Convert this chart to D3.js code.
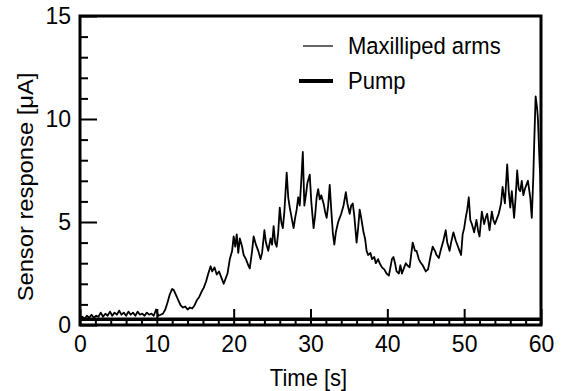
<!DOCTYPE html>
<html>
<head>
<meta charset="utf-8">
<script src="https://cdn.jsdelivr.net/npm/d3@7"></script>
<style>
  html, body { margin: 0; padding: 0; background: #fff; }
  svg text { font-family: "Liberation Sans", Arial, sans-serif; fill: #000; }
</style>
</head>
<body>
<div id="chart"></div>
<script>
// time [s] and response [uA]
const armTime = [
  0.0, 0.3, 0.6, 0.9, 1.2, 1.5, 1.8, 2.1, 2.4, 2.7, 3.0, 3.3, 3.6, 3.9, 4.2, 4.5, 4.8, 5.1, 5.4, 5.7,
  6.0, 6.3, 6.6, 6.9, 7.2, 7.5, 7.8, 8.1, 8.4, 8.7, 9.0, 9.3, 9.6, 9.9, 10.2, 10.5, 10.8, 11.1, 11.4, 11.7,
  12.0, 12.2, 12.5, 12.8, 13.1, 13.4, 13.7, 14.0, 14.3, 14.6, 14.9, 15.2, 15.5, 15.8, 16.1, 16.4, 16.7, 17.0, 17.2, 17.5,
  17.8, 18.1, 18.4, 18.7, 18.9, 19.2, 19.5, 19.8, 20.0, 20.2, 20.4, 20.6, 20.8, 21.1, 21.3, 21.6, 21.9, 22.1, 22.4, 22.6,
  22.9, 23.2, 23.5, 23.7, 24.0, 24.2, 24.5, 24.8, 25.0, 25.2, 25.4, 25.6, 25.8, 26.0, 26.2, 26.4, 26.6, 26.9, 27.1, 27.3,
  27.5, 27.8, 28.0, 28.2, 28.4, 28.6, 28.8, 29.0, 29.2, 29.4, 29.6, 29.9, 30.1, 30.4, 30.6, 30.8, 31.0, 31.2, 31.4, 31.7,
  31.9, 32.1, 32.3, 32.5, 32.7, 32.9, 33.1, 33.3, 33.6, 33.8, 34.0, 34.3, 34.6, 34.8, 35.1, 35.3, 35.5, 35.7, 36.0, 36.2,
  36.4, 36.6, 36.9, 37.1, 37.3, 37.5, 37.8, 38.0, 38.3, 38.5, 38.8, 39.0, 39.3, 39.6, 39.9, 40.2, 40.4, 40.6, 40.8, 41.0,
  41.2, 41.5, 41.7, 41.9, 42.1, 42.4, 42.6, 42.9, 43.1, 43.3, 43.6, 43.8, 44.1, 44.3, 44.6, 45.0, 45.3, 45.6, 45.9, 46.2,
  46.4, 46.7, 47.0, 47.3, 47.6, 47.8, 48.1, 48.3, 48.6, 48.9, 49.2, 49.4, 49.6, 49.8, 50.0, 50.2, 50.4, 50.6, 50.8, 51.0,
  51.3, 51.6, 51.8, 52.0, 52.3, 52.6, 52.8, 53.0, 53.3, 53.6, 53.8, 54.0, 54.3, 54.5, 54.8, 55.0, 55.3, 55.6, 55.8, 56.0,
  56.2, 56.5, 56.7, 56.9, 57.1, 57.3, 57.5, 57.7, 57.9, 58.1, 58.3, 58.6, 58.8, 59.0, 59.1, 59.3, 59.5, 59.6, 59.8, 59.9,
  60.0
]
const armResponse = [
  0.35, 0.4, 0.3, 0.45, 0.35, 0.5, 0.35, 0.45, 0.4, 0.6, 0.4, 0.55, 0.45, 0.65, 0.45, 0.6, 0.5, 0.7, 0.5, 0.6,
  0.45, 0.65, 0.5, 0.6, 0.45, 0.65, 0.5, 0.55, 0.45, 0.6, 0.5, 0.55, 0.45, 0.75, 0.45, 0.5, 0.55, 0.75, 1.1, 1.5,
  1.75, 1.7, 1.45, 1.2, 0.95, 0.85, 0.9, 0.75, 0.85, 0.8, 0.95, 1.2, 1.35, 1.6, 1.8, 2.1, 2.5, 2.85, 2.6, 2.8,
  2.45, 2.6, 2.3, 2.0, 2.2, 2.5, 3.2, 3.6, 4.3, 3.8, 4.4, 3.5, 4.2, 3.8, 3.4, 3.2, 2.9, 2.75, 3.6, 4.3,
  3.9, 3.6, 3.2, 3.5, 4.6, 4.0, 3.6, 4.2, 3.9, 4.8, 4.0, 3.8, 4.5, 5.7, 5.0, 4.7, 5.5, 7.4, 6.2, 5.7,
  5.3, 4.7, 5.2, 5.6, 6.2, 5.8, 7.0, 8.4, 5.8, 6.3, 6.9, 7.3, 6.0, 4.7, 5.3, 6.2, 6.6, 6.1, 6.3, 5.9,
  5.5, 5.2, 5.8, 6.8, 5.6, 4.5, 3.9, 4.5, 5.0, 5.2, 5.4, 5.8, 6.45, 5.9, 5.4, 5.8, 5.9, 5.3, 4.0, 4.7,
  5.6, 5.2, 4.5, 4.2, 3.6, 3.4, 3.5, 3.2, 3.3, 3.0, 3.2, 3.0, 2.8, 2.7, 2.5, 2.4, 2.8, 3.2, 3.3, 3.0,
  2.6, 2.5, 2.9, 2.5, 2.7, 3.0, 2.9, 2.8, 3.4, 4.0, 3.6, 3.6, 3.2, 3.05, 2.9, 2.6, 2.7, 3.3, 3.8, 3.6,
  3.4, 3.25, 3.7, 4.1, 4.6, 4.0, 3.6, 4.0, 4.5, 4.1, 3.8, 3.6, 3.4, 4.4, 4.7, 5.2, 5.6, 6.2, 5.1, 4.9,
  4.5, 5.1, 4.6, 4.3, 5.5, 4.9, 5.2, 5.4, 4.6, 5.5, 5.1, 4.9, 5.2, 5.4, 5.9, 6.7, 5.9, 7.8, 6.5, 5.7,
  6.5, 5.2, 6.2, 7.5, 6.6, 6.5, 7.0, 6.3, 6.6, 6.8, 7.0, 6.2, 5.2, 7.2, 8.6, 11.1, 10.5, 10.0, 8.0, 7.2,
  5.9
]
const pumpTime = [0, 10, 20, 30, 40, 50, 60]
const pumpResponse = [0.28, 0.28, 0.28, 0.28, 0.28, 0.28, 0.28]

const seriesNames = ['Maxilliped arms', 'Pump']
const xMajorTicks = [0, 10, 20, 30, 40, 50, 60]
const yMajorTicks = [0, 5, 10, 15]

const totalWidth = 563
const totalHeight = 391
const plotLeft = 80
const plotRight = 541
const plotTop = 16
const plotBottom = 325
const fontSize = 22
const tickFontSize = 23

const svg = d3.select('#chart')
  .append('svg')
    .attr('width', totalWidth)
    .attr('height', totalHeight)

const x = d3.scaleLinear()
  .domain([0, 60])
  .range([plotLeft, plotRight])

const y = d3.scaleLinear()
  .domain([0, 15])
  .range([plotBottom, plotTop])

// minor ticks
const xMinor = svg.append('g')
  .attr('transform', `translate(0,${plotBottom})`)
  .call(d3.axisBottom(x)
    .tickValues(d3.range(0, 61, 2).filter(d => d % 10 !== 0))
    .tickSize(-6)
    .tickFormat(''))
xMinor.select('.domain').remove()

const yMinor = svg.append('g')
  .attr('transform', `translate(${plotLeft},0)`)
  .call(d3.axisLeft(y)
    .tickValues(d3.range(0, 16, 1).filter(d => d % 5 !== 0))
    .tickSize(-8)
    .tickFormat(''))
yMinor.select('.domain').remove()

// lines
const armData = armTime.map((t, i) => ({ t, v: armResponse[i] }))
const pumpData = pumpTime.map((t, i) => ({ t, v: pumpResponse[i] }))

const line = d3.line()
  .x(d => x(d.t))
  .y(d => y(d.v))

svg.append('path')
  .datum(pumpData)
  .attr('fill', 'none')
  .attr('stroke', '#000')
  .attr('stroke-width', 3.5)
  .attr('d', line)

svg.append('path')
  .datum(armData)
  .attr('fill', 'none')
  .attr('stroke', '#000')
  .attr('stroke-width', 1.8)
  .attr('stroke-linejoin', 'round')
  .attr('d', line)

// major ticks + labels
const xAxis = svg.append('g')
  .attr('transform', `translate(0,${plotBottom})`)
  .call(d3.axisBottom(x)
    .tickValues(xMajorTicks)
    .tickSize(-16)
    .tickPadding(11))
xAxis.select('.domain').remove()

const yAxis = svg.append('g')
  .attr('transform', `translate(${plotLeft},0)`)
  .call(d3.axisLeft(y)
    .tickValues(yMajorTicks)
    .tickSize(-17)
    .tickPadding(9))
yAxis.select('.domain').remove()

svg.selectAll('.tick line')
  .attr('stroke', '#000')
  .attr('stroke-width', 2)

svg.selectAll('.tick text')
  .style('font-size', tickFontSize + 'px')
  .style('font-family', '"Liberation Sans", Arial, sans-serif')
  .attr('fill', '#000')

// frame
svg.append('rect')
  .attr('x', plotLeft)
  .attr('y', plotTop)
  .attr('width', plotRight - plotLeft)
  .attr('height', plotBottom - plotTop)
  .attr('fill', 'none')
  .attr('stroke', '#000')
  .attr('stroke-width', 3)

// axis titles
svg.append('text')
  .attr('transform', `translate(${(plotLeft + plotRight) / 2 - 2},386) scale(1,1.08)`)
  .attr('text-anchor', 'middle')
  .style('font-size', fontSize + 'px')
  .text('Time [s]')

svg.append('text')
  .attr('transform', `translate(33,187) rotate(-90) scale(1.08,1)`)
  .attr('text-anchor', 'middle')
  .style('font-size', fontSize + 'px')
  .text('Sensor response [μA]')

// legend
const legend = svg.append('g')
const legendRows = [
  { name: seriesNames[0], y: 46, x1: 303, width: 1.2 },
  { name: seriesNames[1], y: 81, x1: 299, width: 4 },
]
legendRows.forEach(r => {
  legend.append('line')
    .attr('x1', r.x1)
    .attr('x2', 333)
    .attr('y1', r.y)
    .attr('y2', r.y)
    .attr('stroke', '#000')
    .attr('stroke-width', r.width)
  legend.append('text')
    .attr('transform', `translate(348,${r.y + 8}) scale(1,1.08)`)
    .style('font-size', fontSize + 'px')
    .text(r.name)
})
</script>
</body>
</html>
